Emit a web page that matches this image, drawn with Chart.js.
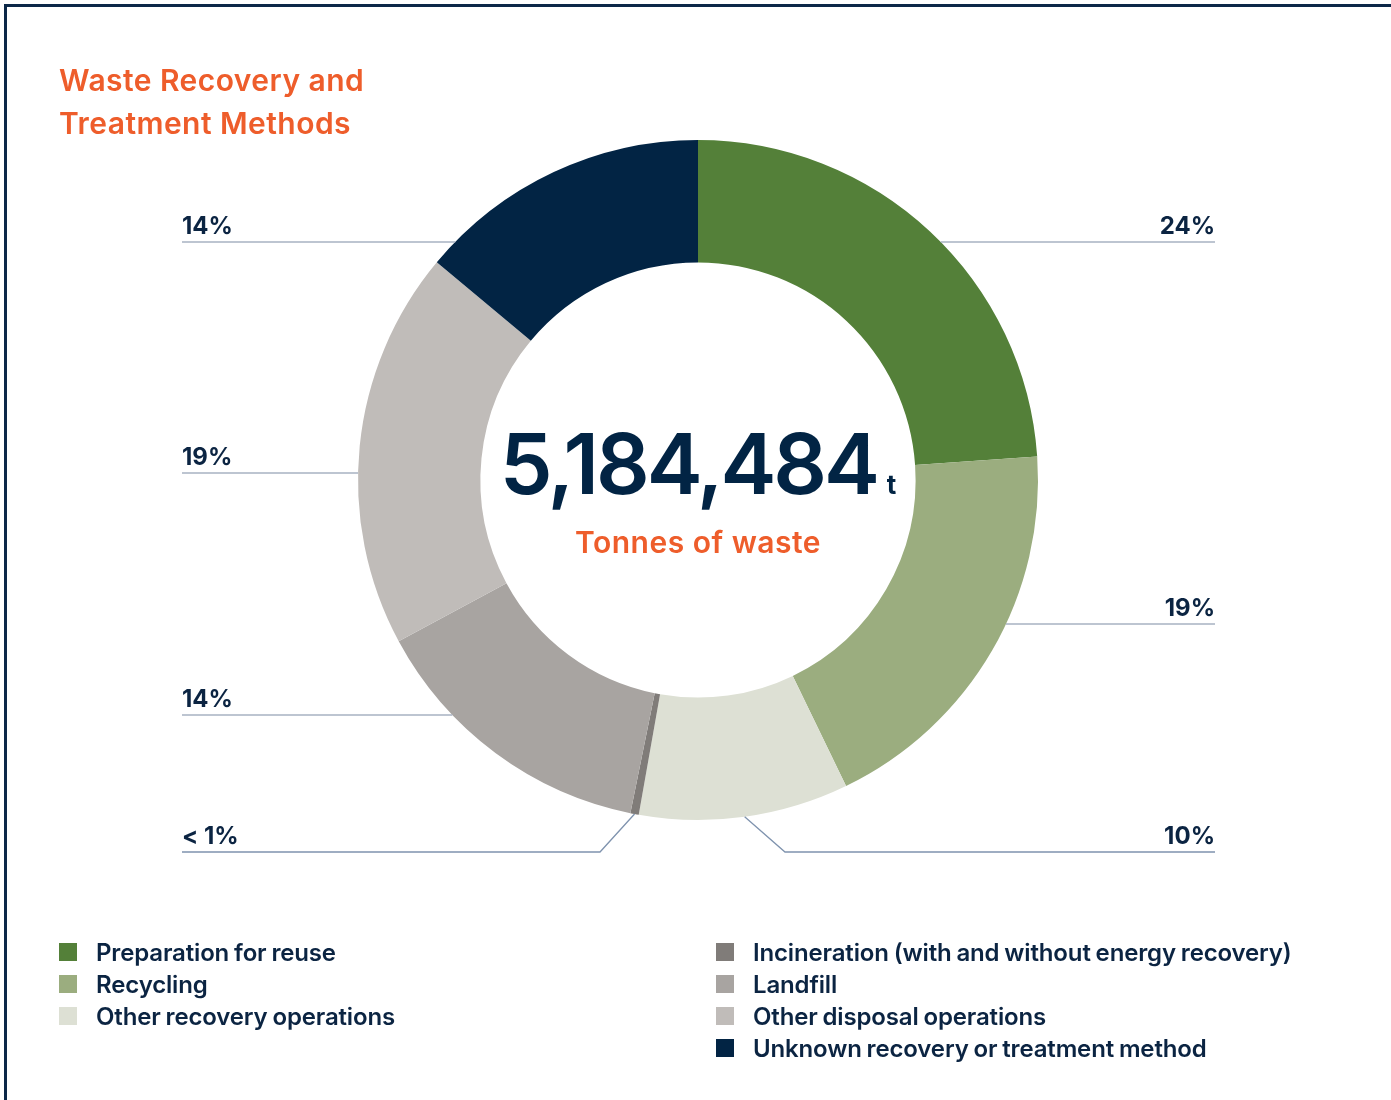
<!DOCTYPE html>
<html>
<head>
<meta charset="utf-8">
<script src="https://cdn.jsdelivr.net/npm/chart.js@4/dist/chart.umd.min.js"></script>
<style>
  html, body { margin: 0; padding: 0; background: #ffffff; }
  #wrap { position: relative; width: 1391px; height: 1100px; overflow: hidden; font-family: Inter, "Noto Sans", sans-serif; }
  #frame { position: absolute; left: 4px; top: 4px; width: 1400px; height: 1200px; border-left: 3px solid #0c2848; border-top: 3px solid #0c2848; box-sizing: border-box; }
  canvas { position: absolute; left: 0; top: 0; }
  .title { position: absolute; left: 59px; top: 59px; color: #ee5d2b; font-size: 30px; font-weight: 600; line-height: 43px; letter-spacing: 0.45px; }
  .total { position: absolute; left: 0; width: 1396px; top: 414px; text-align: center; color: #022444; font-size: 84px; font-weight: 600; letter-spacing: -3.1px; line-height: 100px; }
  .total span { font-size: 26px; font-weight: 700; letter-spacing: 0; margin-left: 10px; }
  .sub { position: absolute; left: 0; width: 1396px; top: 522px; text-align: center; color: #ee5d2b; font-size: 30px; font-weight: 600; line-height: 40px; letter-spacing: 0.5px; }
  .legend { position: absolute; top: 937px; list-style: none; margin: 0; padding: 0; }
  .legend li { height: 32px; line-height: 32px; font-size: 24px; font-weight: 600; color: #0b2442; position: relative; padding-left: 37px; white-space: nowrap; letter-spacing: -0.15px; word-spacing: -1px; }
  .legend li i { position: absolute; left: 0; top: 6px; width: 18px; height: 18px; }
</style>
</head>
<body>
<div id="wrap">
  <div id="frame"></div>
  <canvas id="c" width="1391" height="1100"></canvas>
  <div class="title">Waste Recovery and<br>Treatment Methods</div>
  <div class="total" id="total"></div>
  <div class="sub">Tonnes of waste</div>
  <ul class="legend" id="legA" style="left:59px"></ul>
  <ul class="legend" id="legB" style="left:716px"></ul>
</div>
<script>
// Waste by recovery / treatment method, share of total tonnage (%)
const categories = [
  'Preparation for reuse',
  'Recycling',
  'Other recovery operations',
  'Incineration (with and without energy recovery)',
  'Landfill',
  'Other disposal operations',
  'Unknown recovery or treatment method'
];
const shares = [24, 19, 10, 0.4, 14, 19, 14];
const shareLabels = ['24%', '19%', '10%', '< 1%', '14%', '19%', '14%'];
const colors = ['#548039', '#9bad7f', '#dde0d4', '#807c79', '#a8a4a1', '#c0bcb9', '#022444'];
const totalTonnes = '5,184,484';

// Leader-line layout: label level and side for each slice
const labelRows = [
  { y: 242, side: 'right' },
  { y: 624, side: 'right' },
  { y: 852, side: 'right', elbow: 785 },
  { y: 852, side: 'left', elbow: 600 },
  { y: 715, side: 'left' },
  { y: 473, side: 'left' },
  { y: 242, side: 'left' }
];
const LEFT_X = 182, RIGHT_X = 1215;

document.getElementById('total').innerHTML = totalTonnes + '<span>t</span>';
function fillLegend(id, idx) {
  const ul = document.getElementById(id);
  idx.forEach(i => {
    const li = document.createElement('li');
    li.innerHTML = '<i style="background:' + colors[i] + '"></i>' + categories[i];
    ul.appendChild(li);
  });
}
fillLegend('legA', [0, 1, 2]);
fillLegend('legB', [3, 4, 5, 6]);

const leaderPlugin = {
  id: 'leaders',
  afterDatasetsDraw(chart) {
    const ctx = chart.ctx;
    const arcs = chart.getDatasetMeta(0).data;
    ctx.save();
    arcs.forEach((arc, i) => {
      const row = labelRows[i];
      const { x: cx, y: cy, outerRadius: R, startAngle, endAngle } = arc.getProps(['x', 'y', 'outerRadius', 'startAngle', 'endAngle'], true);
      const endX = row.side === 'right' ? RIGHT_X : LEFT_X;
      ctx.strokeStyle = row.elbow ? '#7f93ae' : '#a7b2c2';
      ctx.lineWidth = 1.3;
      ctx.beginPath();
      if (row.elbow) {
        const mid = (startAngle + endAngle) / 2;
        ctx.moveTo(cx + Math.cos(mid) * R, cy + Math.sin(mid) * R);
        ctx.lineTo(row.elbow, row.y);
        ctx.lineTo(endX, row.y);
      } else {
        const dy = row.y - cy;
        const dx = Math.sqrt(Math.max(R * R - dy * dy, 0));
        ctx.moveTo(row.side === 'right' ? cx + dx : cx - dx, row.y);
        ctx.lineTo(endX, row.y);
      }
      ctx.stroke();
      ctx.fillStyle = '#0b2442';
      ctx.font = '700 24px Inter, "Noto Sans", sans-serif';
      ctx.textAlign = row.side === 'right' ? 'right' : 'left';
      ctx.textBaseline = 'alphabetic';
      ctx.fillText(shareLabels[i], endX, row.y - 8);
    });
    ctx.restore();
  }
};

new Chart(document.getElementById('c'), {
  type: 'doughnut',
  data: {
    labels: categories,
    datasets: [{ data: shares, backgroundColor: colors, borderWidth: 0 }]
  },
  options: {
    responsive: false,
    animation: false,
    cutout: '64%',
    layout: { padding: { left: 358, right: 353, top: 140, bottom: 280 } },
    plugins: { legend: { display: false }, tooltip: { enabled: false } }
  },
  plugins: [leaderPlugin]
});
</script>
</body>
</html>
